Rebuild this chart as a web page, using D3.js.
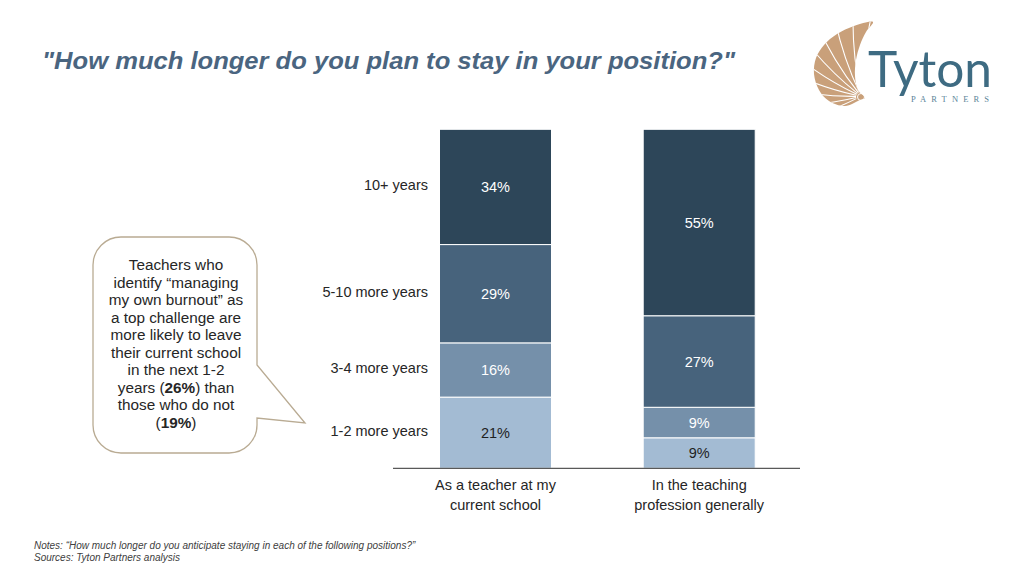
<!DOCTYPE html>
<html><head><meta charset="utf-8">
<script src="https://cdn.jsdelivr.net/npm/d3@7"></script>
<style>
body{margin:0;background:#fff;}
svg{display:block;font-family:"Liberation Sans",Arial,sans-serif;}
</style></head>
<body><svg id="c" width="1024" height="576"></svg>
<script>
const categories = ["As a teacher at my|current school", "In the teaching|profession generally"];
const segments = ["1-2 more years", "3-4 more years", "5-10 more years", "10+ years"];
const values = {
  "1-2 more years": [21, 9],
  "3-4 more years": [16, 9],
  "5-10 more years": [29, 27],
  "10+ years": [34, 55]
};
const segColors = ["#a3bbd3", "#7590aa", "#47637c", "#2d4659"];
const labelColors = ["#1f1f1f", "#ffffff", "#ffffff", "#ffffff"];
const calloutLines = ["Teachers who","identify “managing","my own burnout” as","a top challenge are","more likely to leave","their current school","in the next 1-2","years (**26%**) than","those who do not","(**19%**)"];

const svg = d3.select("#c");

// Title
svg.append("text").attr("x", 42).attr("y", 69)
  .attr("font-size", 23).attr("font-weight", "bold").attr("font-style", "italic")
  .attr("fill", "#4a6580").attr("textLength", 693).attr("lengthAdjust","spacingAndGlyphs")
  .text("\"How much longer do you plan to stay in your position?\"");

// Chart
const xb = d3.scalePoint().domain(categories).range([495.5, 699.2]);
const barW = 112;
const y = d3.scaleLinear().domain([0, 100]).range([468.3, 129.3]);

const rows = categories.map((c, i) => {
  const r = {cat: c};
  segments.forEach(s => r[s] = values[s][i]);
  return r;
});
const stack = d3.stack().keys(segments)(rows);

const g = svg.append("g");
stack.forEach((layer, li) => {
  layer.forEach((d, ci) => {
    const cx = xb(categories[ci]);
    g.append("rect")
      .attr("x", cx - barW / 2).attr("width", barW)
      .attr("y", y(d[1])).attr("height", y(d[0]) - y(d[1]))
      .attr("fill", segColors[li]).attr("stroke", "#ffffff").attr("stroke-width", 1);
    g.append("text").attr("x", cx).attr("y", (y(d[0]) + y(d[1])) / 2)
      .attr("dy", "0.35em").attr("text-anchor", "middle")
      .attr("font-size", 14.5).attr("fill", labelColors[li])
      .text(values[segments[li]][ci] + "%");
  });
  const d0 = layer[0];
  g.append("text").attr("x", 428).attr("y", (y(d0[0]) + y(d0[1])) / 2 - 2)
    .attr("dy", "0.35em").attr("text-anchor", "end")
    .attr("font-size", 14.5).attr("fill", "#262626").text(segments[li]);
});

g.append("line").attr("x1", 393).attr("x2", 800).attr("y1", y(0)).attr("y2", y(0))
  .attr("stroke", "#595959").attr("stroke-width", 1.2);

categories.forEach(c => {
  const t = g.append("text").attr("text-anchor", "middle").attr("font-size", 14.5).attr("fill", "#262626");
  c.split("|").forEach((ln, i) => {
    t.append("tspan").attr("x", xb(c)).attr("y", 490 + i * 20).text(ln);
  });
});

// Callout bubble
const L = 93, T = 237, R = 257, B = 453, rad = 28;
const p = d3.path();
p.moveTo(L + rad, T);
p.lineTo(R - rad, T);
p.arcTo(R, T, R, T + rad, rad);
p.lineTo(R, 365);
p.lineTo(305, 423);
p.lineTo(R, 418);
p.arcTo(R, B, R - rad, B, rad);
p.lineTo(L + rad, B);
p.arcTo(L, B, L, B - rad, rad);
p.lineTo(L, T + rad);
p.arcTo(L, T, L + rad, T, rad);
p.closePath();
svg.append("path").attr("d", p.toString()).attr("fill", "#fff")
  .attr("stroke", "#b9ab93").attr("stroke-width", 1.3);

const ct = svg.append("text").attr("text-anchor", "middle").attr("font-size", 15.3).attr("fill", "#262626");
calloutLines.forEach((ln, i) => {
  const ts = ct.append("tspan").attr("x", 176).attr("y", 270 + i * 17.5);
  ln.split(/(\*\*[^*]+\*\*)/).filter(s => s.length).forEach((part, k) => {
    const bold = part.startsWith("**");
    const el = k === 0 ? ts : ct.append("tspan");
    el.attr("font-weight", bold ? "bold" : null).text(bold ? part.slice(2, -2) : part);
  });
});

// Footer notes
const foot = svg.append("text").attr("font-size", 10).attr("font-style", "italic").attr("fill", "#404040");
foot.append("tspan").attr("x", 34).attr("y", 549).text("Notes: “How much longer do you anticipate staying in each of the following positions?”");
foot.append("tspan").attr("x", 34).attr("y", 561).text("Sources: Tyton Partners analysis");

// Logo
const logo = svg.append("g");
const shell = [[860,100],[845,106],[829,101],[819,90],[814,74],[816,58],[824,45],[837,34],[854,26],[873,22],[866,32],[860,45],[856,60],[855,76],[858,90],[865,98]];
const shellPath = d3.line().curve(d3.curveCatmullRomClosed)(shell);
svg.append("defs").append("clipPath").attr("id", "shellclip").append("path").attr("d", shellPath);
logo.append("path").attr("d", shellPath).attr("fill", "#c9a07a");
const pivot = [861, 97];
const lines = logo.append("g").attr("clip-path", "url(#shellclip)");
d3.range(10).forEach(i => {
  const a = (-82 - i * 13) * Math.PI / 180;
  const len = 90;
  const x2 = pivot[0] + Math.cos(a) * len, y2 = pivot[1] + Math.sin(a) * len;
  const mx = pivot[0] + Math.cos(a - 0.12) * len * 0.5, my = pivot[1] + Math.sin(a - 0.12) * len * 0.5;
  lines.append("path").attr("d", `M${pivot[0] + Math.cos(a) * 5},${pivot[1] + Math.sin(a) * 5} Q${mx},${my} ${x2},${y2}`)
    .attr("fill", "none").attr("stroke", "#fff").attr("stroke-width", 1.1);
});
logo.append("circle").attr("cx", pivot[0]).attr("cy", pivot[1]).attr("r", 3.5).attr("fill", "none").attr("stroke", "#fff").attr("stroke-width", 1);
logo.append("text").attr("x", 868).attr("y", 87).attr("font-size", 50).attr("fill", "#3e6b82")
  .attr("font-family", "Lato, 'Liberation Sans', sans-serif").attr("textLength", 124).attr("lengthAdjust","spacingAndGlyphs").text("Tyton");
logo.append("text").attr("x", 911).attr("y", 102).attr("font-size", 8.5).attr("fill", "#5b8599")
  .attr("font-family", "'Liberation Serif', serif").attr("textLength", 81).attr("letter-spacing", 3).text("PARTNERS");
</script></body></html>
